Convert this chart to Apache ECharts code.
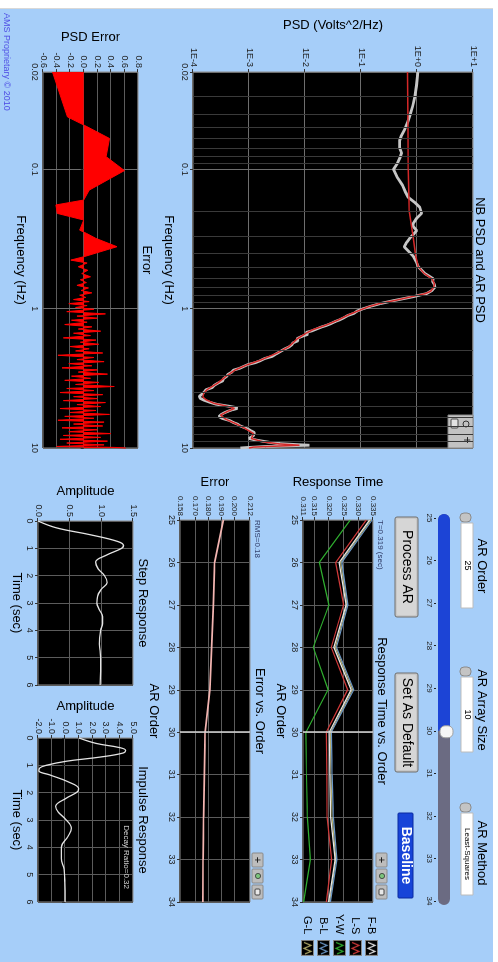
<!DOCTYPE html>
<html>
<head>
<meta charset="utf-8">
<script src="https://cdn.jsdelivr.net/npm/echarts@6/dist/echarts.min.js"></script>
<style>
html, body { margin: 0; padding: 0; background: #fff; overflow: hidden; width: 498px; height: 962px; }
/* the panel is drawn landscape and turned a quarter clockwise, like the screenshot */
#main { position: absolute; left: 0; top: 0; width: 962px; height: 498px;
        transform-origin: 0 0; transform: translate(498px, 0) rotate(90deg); }
</style>
</head>
<body>
<div id="main"></div>
<script>
// ---- data ----
// NB PSD (gray) and AR PSD (red), [Hz, Volts^2/Hz]
var nbPsd = [[0.02,1.04],[0.025,0.98],[0.03,0.92],[0.035,0.84],[0.04,0.76],[0.046,0.68],[0.052,0.6],[0.058,0.52],[0.062,0.49],[0.07,0.49],[0.076,0.53],[0.082,0.5],[0.09,0.45],[0.1,0.38],[0.115,0.45],[0.13,0.55],[0.145,0.62],[0.158,0.69],[0.172,0.9],[0.187,1.12],[0.2,1.18],[0.207,1.21],[0.225,0.98],[0.245,0.85],[0.258,0.86],[0.275,0.99],[0.29,0.88],[0.31,0.75],[0.335,0.65],[0.36,0.59],[0.39,0.72],[0.42,0.86],[0.46,0.97],[0.5,1.05],[0.53,1.22],[0.56,1.39],[0.58,1.6],[0.61,1.95],[0.64,1.9],[0.67,2.05],[0.7,2.09],[0.74,1.85],[0.78,1.48],[0.8,1.1],[0.82,0.86],[0.85,0.55],[0.88,0.36],[0.92,0.22],[0.96,0.15],[1.0,0.11],[1.04,0.085],[1.08,0.075],[1.12,0.058],[1.16,0.05],[1.2,0.042],[1.24,0.034],[1.28,0.029],[1.32,0.024],[1.36,0.019],[1.4,0.016],[1.44,0.0135],[1.48,0.0105],[1.53,0.0112],[1.58,0.0088],[1.64,0.0072],[1.7,0.0075],[1.76,0.0061],[1.82,0.0058],[1.88,0.0052],[1.94,0.0044],[2.0,0.0041],[2.06,0.0034],[2.12,0.003],[2.2,0.0026],[2.28,0.0019],[2.36,0.0016],[2.44,0.0013],[2.52,9.5e-4],[2.6,8.0e-4],[2.68,6.8e-4],[2.76,5.3e-4],[2.86,4.9e-4],[2.96,4.2e-4],[3.06,4.0e-4],[3.18,3.5e-4],[3.3,3.4e-4],[3.42,2.8e-4],[3.55,2.4e-4],[3.68,2.2e-4],[3.82,1.7e-4],[3.96,1.6e-4],[4.1,1.45e-4],[4.25,1.3e-4],[4.41,1.35e-4],[4.55,1.6e-4],[4.7,2.0e-4],[4.85,2.6e-4],[5.0,4.2e-4],[5.1,5.5e-4],[5.2,6.2e-4],[5.32,5.0e-4],[5.45,4.2e-4],[5.6,3.6e-4],[5.75,3.2e-4],[5.95,2.9e-4],[6.15,3.4e-4],[6.35,4.5e-4],[6.55,5.2e-4],[6.75,6.3e-4],[6.95,7.0e-4],[7.15,8.4e-4],[7.35,9.8e-4],[7.55,1.1e-3],[7.75,1.25e-3],[7.95,1.35e-3],[8.15,1.2e-3],[8.35,1.1e-3],[8.55,1.0e-3],[8.75,1.3e-3],[8.95,1.8e-3],[9.1,2.3e-3],[9.3,3.5e-3],[9.45,7.0e-3],[9.55,0.012],[9.65,5.0e-3],[9.75,2.0e-3],[9.85,1.3e-3],[9.93,9.0e-4],[10,7.0e-4]];
var arPsd = [[0.02,0.68],[0.05,0.69],[0.1,0.7],[0.2,0.73],[0.3,0.85],[0.42,0.95],[0.5,1.05],[0.56,1.35],[0.61,1.85],[0.66,2.05],[0.7,2.0],[0.75,1.75],[0.78,1.4],[0.82,0.8],[0.87,0.42],[0.92,0.21],[0.97,0.135],[1.02,0.098],[1.1,0.062],[1.2,0.04],[1.31,0.024],[1.42,0.0135],[1.5,0.0105],[1.65,0.0072],[1.87,0.0052],[2.09,0.0031],[2.34,0.0016],[2.54,9.0e-4],[2.76,5.6e-4],[3.08,3.8e-4],[3.44,2.7e-4],[3.8,1.8e-4],[4.06,1.55e-4],[4.3,1.5e-4],[4.5,1.7e-4],[4.79,2.4e-4],[5.0,4.0e-4],[5.2,5.5e-4],[5.45,4.2e-4],[5.8,3.1e-4],[6.2,3.8e-4],[6.67,5.7e-4],[7.24,8.5e-4],[7.87,1.2e-3],[8.55,1.1e-3],[9.03,1.8e-3],[9.35,3.5e-3],[9.55,8.0e-3],[9.7,3.0e-3],[9.85,1.2e-3],[10,1.0e-3]];
// PSD error, [Hz, error]
var psdErr = [[0.02,-0.46],[0.042,-0.24],[0.048,0],[0.06,0.38],[0.081,0.33],[0.102,0.6],[0.141,0.08],[0.166,0],[0.18,-0.41],[0.207,-0.39],[0.231,0],[0.273,-0.06],[0.288,0.04],[0.313,0.18],[0.359,0.49],[0.424,0],[0.448,-0.19],[0.47,0.05],[0.5,-0.08],[0.53,0.06],[0.56,-0.03],[0.59,0.1],[0.62,-0.05],[0.65,0.04],[0.68,-0.1],[0.71,0.07],[0.74,-0.04],[0.77,0.12],[0.8,-0.06],[0.83,0.03],[0.86,-0.15],[0.89,0.08],[0.92,-0.22],[0.95,0.05],[0.98,-0.12],[1.01,0.15],[1.05,-0.25],[1.09,0.32],[1.13,-0.1],[1.17,0.2],[1.21,-0.18],[1.25,0.05],[1.3,-0.28],[1.35,0.12],[1.4,-0.08],[1.45,0.25],[1.5,-0.15],[1.56,0.1],[1.62,-0.3],[1.68,0.18],[1.74,-0.05],[1.8,0.22],[1.87,-0.2],[1.94,0.08],[2.01,-0.12],[2.08,0.28],[2.16,-0.38],[2.24,0.15],[2.32,-0.1],[2.4,0.3],[2.48,-0.22],[2.57,0.12],[2.66,-0.32],[2.75,0.2],[2.85,-0.08],[2.95,0.35],[3.05,-0.18],[3.16,0.1],[3.27,-0.28],[3.38,0.22],[3.5,-0.12],[3.62,0.45],[3.74,-0.25],[3.87,0.15],[4.0,-0.35],[4.14,0.28],[4.28,-0.15],[4.42,0.2],[4.57,-0.3],[4.72,0.32],[4.88,-0.1],[5.04,0.25],[5.21,-0.35],[5.38,0.18],[5.56,-0.2],[5.74,0.38],[5.93,-0.28],[6.12,0.15],[6.32,-0.38],[6.52,0.3],[6.73,-0.15],[6.95,0.28],[7.17,-0.32],[7.4,0.2],[7.64,-0.22],[7.88,0.4],[8.13,-0.3],[8.39,0.25],[8.66,-0.35],[8.93,0.35],[9.21,-0.25],[9.5,0.3],[9.75,-0.4],[9.9,0.45],[10,0.62]];
var freqMinor = [0.03,0.04,0.05,0.06,0.07,0.08,0.09,0.2,0.3,0.4,0.5,0.6,0.7,0.8,0.9,2,3,4,5,6,7,8,9];

// response time vs AR order
var arOrders = [25,26,27,28,29,30,31,32,33,34];
var respNames = ['F-B','L-S','Y-W','B-L','G-L'];
var respColors = ['#e8e8e8','#d23a3a','#2fae2f','#6c98c8','#b4ac6a'];
var respFB = [0.3338,0.3234,0.3258,0.3216,0.3275,0.3200,0.3202,0.3205,0.3220,0.3198];
var respLS = [0.3327,0.3222,0.3249,0.3207,0.3263,0.3190,0.3192,0.3193,0.3208,0.3190];
var respYW = [0.3272,0.3166,0.3199,0.3145,0.3196,0.3120,0.3122,0.3125,0.3135,0.3112];
var respBL = [0.3347,0.3243,0.3264,0.3225,0.3284,0.3207,0.3210,0.3214,0.3226,0.3204];
var respGL = [0.3342,0.3239,0.3261,0.3221,0.3280,0.3204,0.3206,0.3210,0.3223,0.3201];
var respTicks = [0.311,0.315,0.320,0.325,0.330,0.335];
var errOrder = [0.1915,0.1847,0.1838,0.1824,0.181,0.1774,0.1768,0.1762,0.1758,0.1757];
var errTicks = [0.158,0.170,0.180,0.190,0.200,0.212];
var cursorOrder = 30;

// step and impulse responses
var stepT = [0,0.25,0.5,0.75,0.9,1.0,1.25,1.5,1.75,2.0,2.25,2.5,2.75,3.0,3.25,3.5,3.75,4.0,4.5,5.0,5.5,6.0];
var stepA = [0,0.29,0.82,1.26,1.35,1.32,1.08,0.91,0.95,1.05,1.09,1.0,0.94,0.93,0.97,1.02,1.02,0.99,0.97,0.99,0.99,0.98];
var impT = [0,0.2,0.35,0.45,0.55,0.7,0.85,1.0,1.1,1.2,1.35,1.6,1.85,1.95,2.2,2.5,2.7,3.0,3.3,3.6,4.0,4.4,4.8,5.2,5.6,6.0];
var impA = [1.02,2.3,4.0,4.46,4.27,2.55,0.09,-1.39,-1.88,-1.93,-1.14,0.21,1.0,0.95,0.09,-0.7,-0.53,0.09,0.46,0.21,-0.28,-0.28,-0.08,-0.03,0,0];

// slider
var sliderMin = 25, sliderMax = 34, sliderValue = 30;

var font = 'Liberation Sans, Arial, sans-serif';
var chart = echarts.init(document.getElementById('main'), null, {width: 962, height: 498});

function pairs(xs, ys) { return xs.map(function (x, i) { return [x, ys[i]]; }); }

// legend swatch: black box with a coloured zigzag, like the LabVIEW plot legend
function legendIcon(color) {
  var c = document.createElement('canvas');
  c.width = 32; c.height = 26;
  var g = c.getContext('2d');
  g.fillStyle = '#000'; g.fillRect(0, 0, 32, 26);
  g.strokeStyle = '#8a8a8a'; g.lineWidth = 2; g.strokeRect(1, 1, 30, 24);
  g.strokeStyle = color; g.lineWidth = 2.4; g.beginPath();
  g.moveTo(5, 20); g.lineTo(11, 6); g.lineTo(17, 20); g.lineTo(23, 6); g.lineTo(28, 18);
  g.stroke();
  return 'image://' + c.toDataURL();
}

var tickLbl = {color: '#1e1e1e', fontSize: 9, fontFamily: font};
var nameTxt = {color: '#000', fontSize: 13, fontFamily: font};
var tick = {show: true, length: 3, lineStyle: {color: '#333'}};
var split = {show: true, lineStyle: {color: '#5c5c5c', width: 1}};

function plotGrid(l, t, w, h) {
  return {left: l, top: t, width: w, height: h, show: true, backgroundColor: '#000',
          borderColor: '#8c8c8c', borderWidth: 1, containLabel: false};
}
function freqAxis(gi, gap) {
  return {gridIndex: gi, type: 'log', logBase: 10, min: 0.02, max: 10,
    name: 'Frequency (Hz)', nameLocation: 'middle', nameGap: gap, nameTextStyle: nameTxt,
    axisLine: {show: false}, axisTick: tick, splitLine: {show: true, lineStyle: {color: '#6e6e6e'}},
    axisLabel: Object.assign({margin: 4, showMinLabel: true, showMaxLabel: true,
      formatter: function (v) { return String(Number(v.toPrecision(2))); }}, tickLbl)};
}
function orderAxis(gi, gap) {
  return {gridIndex: gi, type: 'value', min: 25, max: 34, interval: 1,
    name: 'AR Order', nameLocation: 'middle', nameGap: gap, nameTextStyle: nameTxt,
    axisLine: {show: false}, axisTick: tick, splitLine: split,
    axisLabel: Object.assign({margin: 4}, tickLbl)};
}
function timeAxis(gi) {
  return {gridIndex: gi, type: 'value', min: 0, max: 6, interval: 1,
    name: 'Time (sec)', nameLocation: 'middle', nameGap: 15, nameTextStyle: nameTxt,
    axisLine: {show: false}, axisTick: tick, splitLine: split,
    axisLabel: Object.assign({margin: 4}, tickLbl)};
}
function valAxis(gi, name, gap, o) {
  return Object.assign({gridIndex: gi, type: 'value', name: name, nameLocation: 'middle',
    nameRotate: 90, nameGap: gap, nameTextStyle: nameTxt,
    axisLine: {show: false}, axisTick: tick, splitLine: split}, o);
}

var option = {
  animation: false,
  backgroundColor: '#a6cef9',
  grid: [
    plotGrid(72, 25, 376, 280),
    plotGrid(72, 360, 376, 95),
    plotGrid(520, 125, 382, 70),
    plotGrid(520, 248, 382, 70),
    plotGrid(521, 365, 164, 95),
    plotGrid(738, 365, 164, 95),
    {left: 518, top: 61, width: 383, height: 1, show: false}
  ],
  xAxis: [
    freqAxis(0, 16),
    freqAxis(1, 16),
    orderAxis(2, 16),
    orderAxis(3, 20),
    timeAxis(4),
    timeAxis(5),
    {gridIndex: 6, type: 'value', min: sliderMin, max: sliderMax, interval: 1,
     axisLine: {show: false}, splitLine: {show: false},
     axisTick: {show: true, length: 2, lineStyle: {color: '#222'}},
     axisLabel: {margin: 3, color: '#222', fontSize: 8, fontFamily: font}}
  ],
  yAxis: [
    valAxis(0, 'PSD (Volts^2/Hz)', 40, {type: 'log', logBase: 10, min: 1e-4, max: 10,
      splitLine: {show: true, lineStyle: {color: '#6e6e6e'}},
      axisLabel: Object.assign({margin: 5, formatter: function (v) {
        var e = Math.round(Math.log(v) / Math.LN10);
        return '1E' + (e >= 0 ? '+' : '') + e; }}, tickLbl)}),
    valAxis(1, 'PSD Error', 28, {min: -0.6, max: 0.8, interval: 0.2,
      axisLabel: Object.assign({margin: 4, formatter: function (v) { return v.toFixed(1); }}, tickLbl)}),
    valAxis(2, 'Response Time', 31, {min: 0.311, max: 0.335,
      axisTick: {show: true, length: 3, customValues: respTicks, lineStyle: {color: '#333'}},
      axisLabel: Object.assign({margin: 4, customValues: respTicks,
        formatter: function (v) { return v.toFixed(3); }}, tickLbl, {fontSize: 8})}),
    valAxis(3, 'Error', 31, {min: 0.158, max: 0.212,
      axisTick: {show: true, length: 3, customValues: errTicks, lineStyle: {color: '#333'}},
      axisLabel: Object.assign({margin: 4, customValues: errTicks,
        formatter: function (v) { return v.toFixed(3); }}, tickLbl, {fontSize: 8})}),
    valAxis(4, 'Amplitude', 23, {min: 0, max: 1.5, interval: 0.5,
      axisLabel: Object.assign({margin: 4, formatter: function (v) { return v.toFixed(1); }}, tickLbl)}),
    valAxis(5, 'Amplitude', 25, {min: -2, max: 5, interval: 1,
      axisLabel: Object.assign({margin: 4, formatter: function (v) { return v.toFixed(1); }}, tickLbl)}),
    {gridIndex: 6, type: 'value', show: false}
  ],
  legend: {
    orient: 'vertical', left: 914, top: 120, padding: 0, itemGap: 3, itemWidth: 17, itemHeight: 13,
    align: 'right', selectedMode: false,
    data: respNames.map(function (n, i) { return {name: n, icon: legendIcon(respColors[i])}; }),
    textStyle: {color: '#000', fontSize: 11, fontFamily: font, width: 30}
  },
  series: [
    {type: 'line', xAxisIndex: 0, yAxisIndex: 0, data: [], z: 1, silent: true,
     markLine: {silent: true, symbol: 'none', animation: false, label: {show: false},
       lineStyle: {color: '#3a3a3a', width: 1, type: 'solid'},
       data: freqMinor.map(function (f) { return {xAxis: f}; })}},
    {type: 'line', name: 'NB PSD', xAxisIndex: 0, yAxisIndex: 0, data: nbPsd, showSymbol: false, z: 2,
     lineStyle: {color: '#c6c6c6', width: 2.8}},
    {type: 'line', name: 'AR PSD', xAxisIndex: 0, yAxisIndex: 0, data: arPsd, showSymbol: false, z: 3,
     lineStyle: {color: '#d42828', width: 1.5}},
    {type: 'line', name: 'PSD Error', xAxisIndex: 1, yAxisIndex: 1, data: psdErr, showSymbol: false,
     lineStyle: {color: '#ff0000', width: 1}, areaStyle: {color: '#ff0000', opacity: 1}},
    {type: 'line', name: 'G-L', xAxisIndex: 2, yAxisIndex: 2, data: pairs(arOrders, respGL), showSymbol: false,
     color: respColors[4], lineStyle: {color: respColors[4], width: 1.2}},
    {type: 'line', name: 'B-L', xAxisIndex: 2, yAxisIndex: 2, data: pairs(arOrders, respBL), showSymbol: false,
     color: respColors[3], lineStyle: {color: respColors[3], width: 1.2}},
    {type: 'line', name: 'F-B', xAxisIndex: 2, yAxisIndex: 2, data: pairs(arOrders, respFB), showSymbol: false,
     color: respColors[0], lineStyle: {color: respColors[0], width: 1.2}},
    {type: 'line', name: 'L-S', xAxisIndex: 2, yAxisIndex: 2, data: pairs(arOrders, respLS), showSymbol: false,
     color: respColors[1], lineStyle: {color: respColors[1], width: 1.2}},
    {type: 'line', name: 'Y-W', xAxisIndex: 2, yAxisIndex: 2, data: pairs(arOrders, respYW), showSymbol: false,
     color: respColors[2], lineStyle: {color: respColors[2], width: 1.2},
     markLine: {silent: true, symbol: 'none', label: {show: false},
       lineStyle: {color: '#d6d6d6', width: 1.5, type: 'solid'}, data: [{xAxis: cursorOrder}]}},
    {type: 'line', name: 'Error', xAxisIndex: 3, yAxisIndex: 3, data: pairs(arOrders, errOrder), showSymbol: false,
     lineStyle: {color: '#f2b4b0', width: 1.8},
     markLine: {silent: true, symbol: 'none', label: {show: false},
       lineStyle: {color: '#d6d6d6', width: 1.5, type: 'solid'}, data: [{xAxis: cursorOrder}]}},
    {type: 'line', name: 'Step', xAxisIndex: 4, yAxisIndex: 4, data: pairs(stepT, stepA), showSymbol: false,
     smooth: 0.4, lineStyle: {color: '#e4e4e4', width: 1.3}},
    {type: 'line', name: 'Impulse', xAxisIndex: 5, yAxisIndex: 5, data: pairs(impT, impA), showSymbol: false,
     smooth: 0.4, lineStyle: {color: '#e4e4e4', width: 1.3}}
  ]
};
chart.setOption(option);

// ---- panel decorations: labels, controls, buttons ----
function txt(x, y, s, size, o) {
  return {type: 'text', x: x, y: y, silent: true, style: Object.assign({text: s,
    font: size + 'px ' + font, fill: '#000', align: 'center', verticalAlign: 'middle',
    textAlign: 'center', textVerticalAlign: 'middle'}, o || {})};
}
function box(x, y, w, h, fill, stroke, r) {
  return {type: 'rect', silent: true, shape: {x: x, y: y, width: w, height: h, r: r || 0},
          style: {fill: fill, stroke: stroke || null, lineWidth: 1}};
}
function palette(x, y) {
  return [box(x, y, 14, 11, '#bdbdbd', '#8a8a8a', 1), txt(x + 7, y + 5.5, '+', 11, {fill: '#222'}),
          box(x + 16, y, 14, 11, '#bdbdbd', '#8a8a8a', 1),
          {type: 'circle', silent: true, shape: {cx: x + 23, cy: y + 5, r: 2.6}, style: {fill: '#7cc47c', stroke: '#333', lineWidth: 0.8}},
          box(x + 32, y, 14, 11, '#bdbdbd', '#8a8a8a', 1),
          box(x + 36, y + 3, 6, 5, '#e8e8e8', '#444', 1)];
}
function numBox(x, w, val, size) {
  return [box(x - 10, 27, 9, 11, '#c4c4c4', '#8a8a8a', 4),
          box(x, 25, w, 12, '#fff', '#bcbcbc'),
          txt(x + w / 2, 31, val, size)];
}
function button(x, w, label) {
  return [box(x, 80, w, 23, '#c8c8c8', '#6e6e6e', 2),
          box(x + 2, 82, w - 4, 19, '#d6d6d6', null, 1),
          txt(x + w / 2, 91.5, label, 14)];
}

var s0 = chart.convertToPixel({xAxisIndex: 6}, sliderMin);
var s1 = chart.convertToPixel({xAxisIndex: 6}, sliderMax);
var sv = chart.convertToPixel({xAxisIndex: 6}, sliderValue);

var deco = [
  box(0, 0, 8, 498, '#fff'), box(0, 0, 962, 5, '#fff'),
  {type: 'line', silent: true, shape: {x1: 8.5, y1: 5, x2: 8.5, y2: 498}, style: {stroke: '#d8d8d8', lineWidth: 1}},
  txt(260, 18, 'NB PSD and AR PSD', 13),
  txt(260, 351, 'Error', 13),
  txt(13, 492, 'AMS Proprietary \u00a9 2010', 9, {align: 'left', textAlign: 'left', fill: '#4f4fe4'}),
  txt(566, 16, 'AR Order', 13),
  txt(710, 16, 'AR Array Size', 13),
  txt(853, 16, 'AR Method', 13),
  txt(711, 116, 'Response Time vs. Order', 13),
  txt(520, 118, 'T=0.319 (sec)', 8, {align: 'left', textAlign: 'left', fill: '#2e3a66'}),
  txt(711, 238, 'Error vs. Order', 13),
  txt(520, 241, 'RMS=0.18', 8, {align: 'left', textAlign: 'left', fill: '#2e3a66'}),
  txt(603, 355, 'Step Response', 13),
  txt(820, 355, 'Impulse Response', 13),
  txt(889, 372, 'Decay Ratio=0.32', 8, {align: 'right', textAlign: 'right', fill: '#d8d8d8'}),
  // slider track
  box(s0 - 4, 48, s1 - s0 + 8, 12, '#6b6b82', null, 6),
  {type: 'rect', silent: true, shape: {x: s0 - 4, y: 48, width: sv - s0 + 4, height: 12, r: [6, 0, 0, 6]},
   style: {fill: '#1c44d6'}},
  box(sv - 5, 45, 12, 13, '#f6f6f6', '#a0a0a0', 5),
  // buttons
  box(813, 85, 85, 15, '#1744d8', '#0a2aa0', 1),
  txt(855.5, 92.5, 'Baseline', 14, {fill: '#fff', font: 'bold 14px ' + font}),
  // PSD graph palette
  box(415, 25, 33, 25, '#c2c2c2', '#8a8a8a'),
  {type: 'circle', silent: true, shape: {cx: 424, cy: 32, r: 3}, style: {fill: 'none', stroke: '#333', lineWidth: 1}},
  txt(440, 32, '+', 12, {fill: '#222'}),
  box(419, 40, 9, 7, '#e2e2e2', '#444', 1)
];
deco = deco.concat(numBox(523, 85, '25', 9), numBox(677, 75, '10', 9), numBox(813, 82, 'Least-Squares', 8),
  button(517, 100, 'Process AR'), button(673, 99, 'Set As Default'),
  palette(853, 111), palette(853, 235));

chart.setOption({graphic: deco});
</script>
</body>
</html>
